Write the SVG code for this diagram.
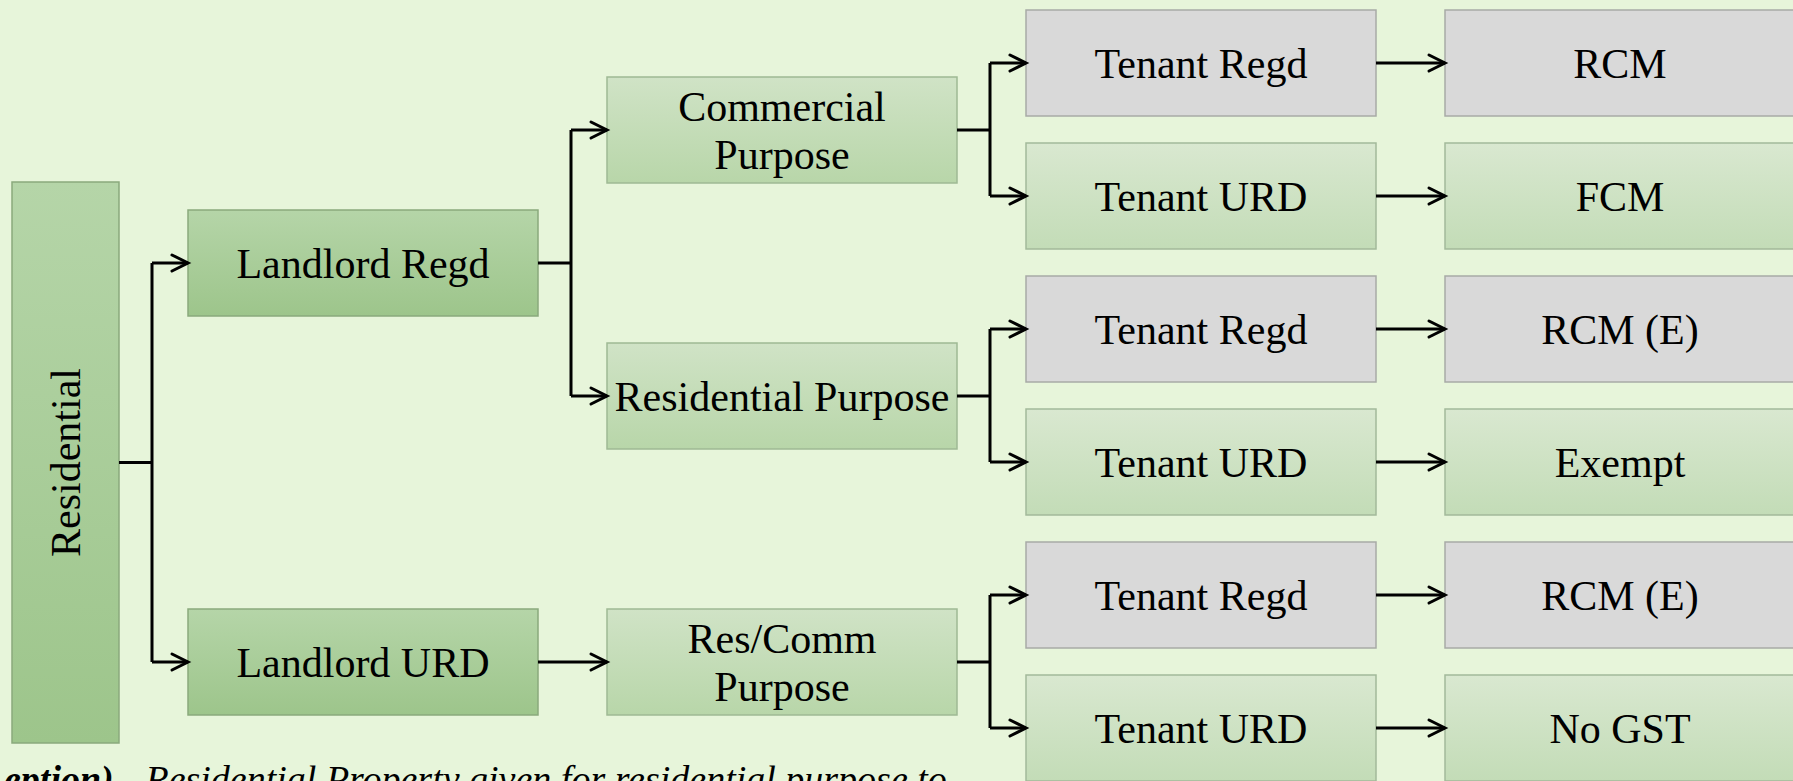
<svg xmlns="http://www.w3.org/2000/svg" width="1793" height="781" viewBox="0 0 1793 781">
  <defs>
    <linearGradient id="gDark" x1="0" y1="0" x2="0" y2="1">
      <stop offset="0" stop-color="#b5d5a8"/>
      <stop offset="1" stop-color="#9dc58b"/>
    </linearGradient>
    <linearGradient id="gMid" x1="0" y1="0" x2="0" y2="1">
      <stop offset="0" stop-color="#d0e3c6"/>
      <stop offset="1" stop-color="#b8d6a9"/>
    </linearGradient>
    <linearGradient id="gLight" x1="0" y1="0" x2="0" y2="1">
      <stop offset="0" stop-color="#d9e8d0"/>
      <stop offset="1" stop-color="#c3dcb7"/>
    </linearGradient>
    <marker id="arrow" markerUnits="userSpaceOnUse" viewBox="-20 -12 24 24" markerWidth="24" markerHeight="24" refX="0" refY="0" orient="auto">
      <path d="M-16,-8 L0,0 L-16,8" fill="none" stroke="#000" stroke-width="3" stroke-linecap="round" stroke-linejoin="miter"/>
    </marker>
    <style>
      .dark { fill: url(#gDark); stroke: #8aa97c; stroke-width: 1.5; }
      .mid { fill: url(#gMid); stroke: #9fb994; stroke-width: 1.5; }
      .light { fill: url(#gLight); stroke: #a3b99a; stroke-width: 1.5; }
      .grey { fill: #d9d9d9; stroke: #a8aaa6; stroke-width: 1.5; }
      .lbl { font-family: "Liberation Serif", "Times New Roman", serif; font-size: 42px; fill: #000; text-anchor: middle; }
      .link { fill: none; stroke: #000; stroke-width: 3; }
      .arr { fill: none; stroke: #000; stroke-width: 3; marker-end: url(#arrow); }
      .cap { font-family: "Liberation Serif", "Times New Roman", serif; font-size: 38px; font-style: italic; fill: #000; }
    </style>
  </defs>

  <rect width="1793" height="781" fill="#e7f5da"/>

  <!-- root -->
  <g id="residential">
    <rect class="dark" x="12" y="182" width="107" height="561"/>
    <text class="lbl" transform="translate(80,462.5) rotate(-90)" x="0" y="0">Residential</text>
  </g>

  <!-- landlord level -->
  <g id="landlord-regd">
    <rect class="dark" x="188" y="210" width="350" height="106"/>
    <text class="lbl" x="363" y="278">Landlord Regd</text>
  </g>
  <g id="landlord-urd">
    <rect class="dark" x="188" y="609" width="350" height="106"/>
    <text class="lbl" x="363" y="677">Landlord URD</text>
  </g>

  <!-- purpose level -->
  <g id="commercial-purpose">
    <rect class="mid" x="607" y="77" width="350" height="106"/>
    <text class="lbl" x="782" y="121">Commercial</text>
    <text class="lbl" x="782" y="169">Purpose</text>
  </g>
  <g id="residential-purpose">
    <rect class="mid" x="607" y="343" width="350" height="106"/>
    <text class="lbl" x="782" y="411">Residential Purpose</text>
  </g>
  <g id="res-comm-purpose">
    <rect class="mid" x="607" y="609" width="350" height="106"/>
    <text class="lbl" x="782" y="653">Res/Comm</text>
    <text class="lbl" x="782" y="701">Purpose</text>
  </g>

  <!-- tenant level -->
  <g id="tenant-regd-1">
    <rect class="grey" x="1026" y="10" width="350" height="106"/>
    <text class="lbl" x="1201" y="78">Tenant Regd</text>
  </g>
  <g id="tenant-urd-1">
    <rect class="light" x="1026" y="143" width="350" height="106"/>
    <text class="lbl" x="1201" y="211">Tenant URD</text>
  </g>
  <g id="tenant-regd-2">
    <rect class="grey" x="1026" y="276" width="350" height="106"/>
    <text class="lbl" x="1201" y="344">Tenant Regd</text>
  </g>
  <g id="tenant-urd-2">
    <rect class="light" x="1026" y="409" width="350" height="106"/>
    <text class="lbl" x="1201" y="477">Tenant URD</text>
  </g>
  <g id="tenant-regd-3">
    <rect class="grey" x="1026" y="542" width="350" height="106"/>
    <text class="lbl" x="1201" y="610">Tenant Regd</text>
  </g>
  <g id="tenant-urd-3">
    <rect class="light" x="1026" y="675" width="350" height="106"/>
    <text class="lbl" x="1201" y="743">Tenant URD</text>
  </g>

  <!-- outcome level -->
  <g id="out-rcm">
    <rect class="grey" x="1445" y="10" width="350" height="106"/>
    <text class="lbl" x="1620" y="78">RCM</text>
  </g>
  <g id="out-fcm">
    <rect class="light" x="1445" y="143" width="350" height="106"/>
    <text class="lbl" x="1620" y="211">FCM</text>
  </g>
  <g id="out-rcm-e-1">
    <rect class="grey" x="1445" y="276" width="350" height="106"/>
    <text class="lbl" x="1620" y="344">RCM (E)</text>
  </g>
  <g id="out-exempt">
    <rect class="light" x="1445" y="409" width="350" height="106"/>
    <text class="lbl" x="1620" y="477">Exempt</text>
  </g>
  <g id="out-rcm-e-2">
    <rect class="grey" x="1445" y="542" width="350" height="106"/>
    <text class="lbl" x="1620" y="610">RCM (E)</text>
  </g>
  <g id="out-no-gst">
    <rect class="light" x="1445" y="675" width="350" height="106"/>
    <text class="lbl" x="1620" y="743">No GST</text>
  </g>

  <!-- connectors -->
  <g id="connectors">
    <path class="link" d="M119,462.5 H152 M152,263 V662"/>
    <path class="arr" d="M152,263 H188"/>
    <path class="arr" d="M152,662 H188"/>

    <path class="link" d="M538,263 H571 M571,130 V396"/>
    <path class="arr" d="M571,130 H607"/>
    <path class="arr" d="M571,396 H607"/>

    <path class="arr" d="M538,662 H607"/>

    <path class="link" d="M957,130 H990 M990,63 V196"/>
    <path class="arr" d="M990,63 H1026"/>
    <path class="arr" d="M990,196 H1026"/>

    <path class="link" d="M957,396 H990 M990,329 V462"/>
    <path class="arr" d="M990,329 H1026"/>
    <path class="arr" d="M990,462 H1026"/>

    <path class="link" d="M957,662 H990 M990,595 V728"/>
    <path class="arr" d="M990,595 H1026"/>
    <path class="arr" d="M990,728 H1026"/>

    <path class="arr" d="M1376,63 H1445"/>
    <path class="arr" d="M1376,196 H1445"/>
    <path class="arr" d="M1376,329 H1445"/>
    <path class="arr" d="M1376,462 H1445"/>
    <path class="arr" d="M1376,595 H1445"/>
    <path class="arr" d="M1376,728 H1445"/>
  </g>

  <!-- footnote line running off the bottom edge -->
  <text class="cap" x="4" y="792"><tspan font-weight="bold">eption)</tspan> - Residential Property given for residential purpose to</text>
</svg>
